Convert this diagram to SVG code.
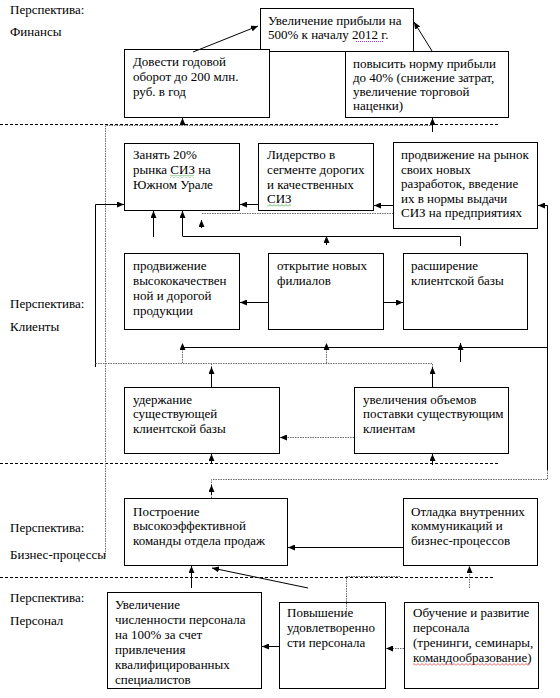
<svg xmlns="http://www.w3.org/2000/svg" width="560" height="698" viewBox="0 0 560 698">
<style>
.t{font-family:"Liberation Serif","Times New Roman",serif;font-size:13px;fill:#000}
.b{fill:#fff;stroke:#000;stroke-width:1}
.c{fill:none;stroke:#000;stroke-width:1}
.g{fill:none;stroke:#6a6a6a;stroke-width:1;stroke-dasharray:1.5 1}
.d{fill:none;stroke:#000;stroke-width:1;stroke-dasharray:3 2}
.a{marker-end:url(#ah)}
</style>
<defs>
<marker id="ah" markerUnits="userSpaceOnUse" markerWidth="7" markerHeight="6" refX="7" refY="3" orient="auto"><path d="M0,0 L7,3 L0,6 z" fill="#000"/></marker>
<pattern id="wg" width="4" height="3" patternUnits="userSpaceOnUse"><path d="M0,2.5 L2,0.5 L4,2.5" fill="none" stroke="#3aa63a" stroke-width="0.8"/></pattern>
<pattern id="wr" width="4" height="3" patternUnits="userSpaceOnUse"><path d="M0,2.5 L2,0.5 L4,2.5" fill="none" stroke="#e03030" stroke-width="0.8"/></pattern>
</defs>
<rect width="560" height="698" fill="#fff"/>

<g id="labels">
<text class="t" x="10" y="14">Перспектива:</text>
<text class="t" x="10" y="36">Финансы</text>
<text class="t" x="10" y="308">Перспектива:</text>
<text class="t" x="10" y="331">Клиенты</text>
<text class="t" x="10" y="532">Перспектива:</text>
<text class="t" x="10" y="559">Бизнес-процессы</text>
<text class="t" x="10" y="602">Перспектива:</text>
<text class="t" x="10" y="625">Персонал</text>
</g>

<g id="dividers">
<line class="d" x1="0" y1="124.5" x2="498" y2="124.5"/>
<line class="d" x1="0" y1="463.5" x2="500" y2="463.5"/>
<line class="d" x1="0" y1="577.5" x2="495" y2="577.5"/>
</g>

<g id="nA">
<rect class="b" x="260.5" y="8.5" width="153" height="43"/>
<text class="t" x="268"><tspan x="268" y="25">Увеличение прибыли на</tspan><tspan x="268" y="39">500% к началу 2012 г.</tspan></text>
<line x1="356" y1="41.5" x2="384" y2="41.5" stroke="#a040c0" stroke-width="1" stroke-dasharray="1 1"/>
</g>
<g id="nB">
<rect class="b" x="124.5" y="49.5" width="145" height="68"/>
<text class="t"><tspan x="133" y="66">Довести годовой</tspan><tspan x="133" y="81">оборот до 200 млн.</tspan><tspan x="133" y="96">руб. в год</tspan></text>
</g>
<g id="nC">
<rect class="b" x="345.5" y="51.5" width="163" height="66"/>
<text class="t"><tspan x="353" y="68">повысить норму прибыли</tspan><tspan x="353" y="82">до 40% (снижение затрат,</tspan><tspan x="353" y="96">увеличение торговой</tspan><tspan x="353" y="110">наценки)</tspan></text>
</g>
<g id="nD">
<rect class="b" x="124.5" y="143.5" width="115" height="67"/>
<text class="t"><tspan x="133" y="159">Занять 20%</tspan><tspan x="133" y="174">рынка СИЗ на</tspan><tspan x="133" y="189">Южном Урале</tspan></text>
<rect x="170" y="175" width="24" height="3" fill="url(#wg)"/>
</g>
<g id="nE">
<rect class="b" x="258.5" y="143.5" width="115" height="67"/>
<text class="t"><tspan x="267" y="159">Лидерство в</tspan><tspan x="267" y="174">сегменте дорогих</tspan><tspan x="267" y="189">и качественных</tspan><tspan x="267" y="203">СИЗ</tspan></text>
<rect x="267" y="204" width="24" height="3" fill="url(#wg)"/>
</g>
<g id="nF">
<rect class="b" x="393.5" y="142.5" width="144" height="86"/>
<text class="t"><tspan x="401" y="159">продвижение на рынок</tspan><tspan x="401" y="174">своих новых</tspan><tspan x="401" y="188">разработок, введение</tspan><tspan x="401" y="203">их в нормы выдачи</tspan><tspan x="401" y="217">СИЗ на предприятиях</tspan></text>
</g>
<g id="nG">
<rect class="b" x="124.5" y="253.5" width="115" height="76"/>
<text class="t"><tspan x="133" y="270">продвижение</tspan><tspan x="133" y="285">высококачествен</tspan><tspan x="133" y="300">ной и дорогой</tspan><tspan x="133" y="315">продукции</tspan></text>
</g>
<g id="nH">
<rect class="b" x="268.5" y="253.5" width="115" height="76"/>
<text class="t"><tspan x="277" y="270">открытие новых</tspan><tspan x="277" y="285">филиалов</tspan></text>
</g>
<g id="nI">
<rect class="b" x="403.5" y="253.5" width="124" height="76"/>
<text class="t"><tspan x="411" y="270">расширение</tspan><tspan x="411" y="285">клиентской базы</tspan></text>
</g>
<g id="nJ">
<rect class="b" x="124.5" y="387.5" width="155" height="66"/>
<text class="t"><tspan x="133" y="404">удержание</tspan><tspan x="133" y="418">существующей</tspan><tspan x="133" y="433">клиентской базы</tspan></text>
</g>
<g id="nK">
<rect class="b" x="354.5" y="387.5" width="154" height="66"/>
<text class="t"><tspan x="363" y="404">увеличения объемов</tspan><tspan x="363" y="418">поставки существующим</tspan><tspan x="363" y="433">клиентам</tspan></text>
</g>
<g id="nL">
<rect class="b" x="124.5" y="498.5" width="163" height="67"/>
<text class="t"><tspan x="133" y="516">Построение</tspan><tspan x="133" y="530">высокоэффективной</tspan><tspan x="133" y="545">команды отдела продаж</tspan></text>
</g>
<g id="nM">
<rect class="b" x="403.5" y="498.5" width="134" height="67"/>
<text class="t"><tspan x="411" y="516">Отладка внутренних</tspan><tspan x="411" y="530">коммуникаций и</tspan><tspan x="411" y="545">бизнес-процессов</tspan></text>
</g>
<g id="nN">
<rect class="b" x="107.5" y="592.5" width="154" height="96"/>
<text class="t"><tspan x="115" y="609">Увеличение</tspan><tspan x="115" y="624">численности персонала</tspan><tspan x="115" y="639">на 100% за счет</tspan><tspan x="115" y="654">привлечения</tspan><tspan x="115" y="669">квалифицированных</tspan><tspan x="115" y="684">специалистов</tspan></text>
</g>
<g id="nO">
<rect class="b" x="279.5" y="602.5" width="106" height="86"/>
<text class="t"><tspan x="287" y="617">Повышение</tspan><tspan x="287" y="632">удовлетворенно</tspan><tspan x="287" y="647">сти персонала</tspan></text>
</g>
<g id="nP">
<rect class="b" x="404.5" y="602.5" width="134" height="86"/>
<text class="t"><tspan x="413" y="617">Обучение и развитие</tspan><tspan x="413" y="632">персонала</tspan><tspan x="413" y="647">(тренинги, семинары,</tspan><tspan x="413" y="662">командообразование)</tspan></text>
<rect x="413" y="663" width="117" height="3" fill="url(#wr)"/>
</g>

<g id="connectors">
<line class="c a" x1="193" y1="52" x2="258" y2="26"/>
<line class="c a" x1="432" y1="51" x2="414" y2="22"/>
<line class="c a" x1="182.5" y1="125" x2="182.5" y2="118"/>
<line class="c a" x1="432.5" y1="132" x2="432.5" y2="118"/>
<path class="g" d="M105.5,557 V125.5 H432"/>
<line class="c a" x1="393" y1="205.5" x2="374" y2="205.5"/>
<line class="c a" x1="258" y1="204.5" x2="240" y2="204.5"/>
<path class="c a" d="M95.5,367 V204.5 H124"/>
<path class="g" d="M95.5,363.5 H432.5 V368"/>
<line class="c a" x1="432.5" y1="387" x2="432.5" y2="367"/>
<line class="g" x1="211.5" y1="363.5" x2="211.5" y2="368"/>
<line class="c a" x1="211.5" y1="387" x2="211.5" y2="367"/>
<line class="c a" x1="153.5" y1="237" x2="153.5" y2="211"/>
<line class="c a" x1="182.5" y1="236" x2="182.5" y2="211"/>
<line class="c a" x1="201.5" y1="228" x2="201.5" y2="220"/>
<line class="g" x1="202" y1="213.5" x2="393" y2="213.5"/>
<path class="c" d="M182.5,236.5 H460.5 V246"/>
<line class="c a" x1="326.5" y1="245" x2="326.5" y2="236"/>
<line class="c a" x1="268" y1="302.5" x2="240" y2="302.5"/>
<line class="c a" x1="383" y1="302.5" x2="403" y2="302.5"/>
<line class="c" x1="182" y1="347.5" x2="547.5" y2="347.5"/>
<line class="g a" x1="182.5" y1="363" x2="182.5" y2="343"/>
<line class="g a" x1="326.5" y1="363" x2="326.5" y2="343"/>
<line class="c a" x1="460.5" y1="362" x2="460.5" y2="343"/>
<path class="c a" d="M547.5,470 V205.5 H538"/>
<path class="g" d="M547.5,470 V479.5 H211.5 V498"/>
<line class="c a" x1="211.5" y1="495" x2="211.5" y2="485"/>
<line class="g a" x1="354" y1="437.5" x2="280" y2="437.5"/>
<line class="c a" x1="211.5" y1="463" x2="211.5" y2="454"/>
<line class="c a" x1="432.5" y1="465" x2="432.5" y2="454"/>
<line class="c a" x1="403" y1="547.5" x2="288" y2="547.5"/>
<line class="c a" x1="191.5" y1="588" x2="191.5" y2="566"/>
<line class="c a" x1="308" y1="588" x2="212" y2="568"/>
<line class="g a" x1="469.5" y1="588" x2="469.5" y2="566"/>
<path class="g" d="M346.5,612 V576.5 H400"/>
<line class="c a" x1="279" y1="646.5" x2="262" y2="646.5"/>
<line class="g a" x1="404" y1="648.5" x2="386" y2="648.5"/>
</g>
</svg>
